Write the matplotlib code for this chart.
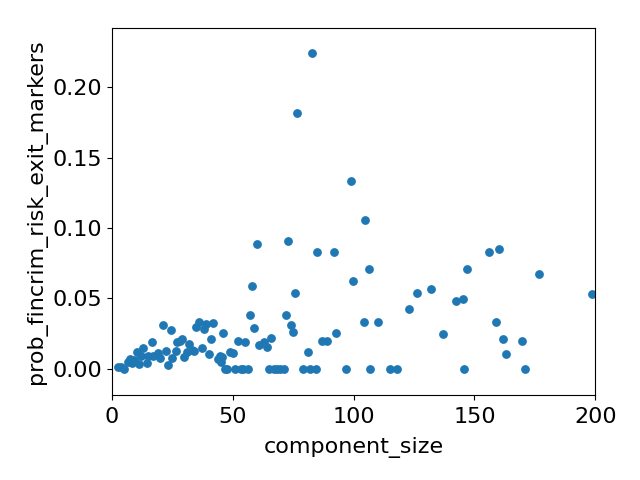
import matplotlib
matplotlib.use("Agg")
import matplotlib.pyplot as plt
import numpy as np

# component sizes and risk probabilities
component_size = [
    2.3, 3.7, 5.1, 6.8, 7.5, 8.1, 9.2, 10.2, 11.3, 12.0, 13.0, 14.4, 15.0, 16.4,
    17.1, 19.2, 19.9, 21.2, 22.2, 23.3, 24.3, 25.0, 26.4, 26.8, 28.2, 28.9, 29.9,
    30.9, 32.0, 33.3, 34.1, 34.8, 36.2, 37.1, 38.1, 38.8, 40.3, 41.0, 41.9, 44.0,
    44.7, 45.1, 45.4, 46.1, 48.9, 50.2, 52.3, 55.2, 57.3, 58.1, 58.9, 60.2, 61.0,
    63.1, 64.0, 66.0, 72.0, 73.0, 74.2, 75.1, 75.9, 76.6, 81.3, 82.8, 85.0, 87.1,
    89.1, 92.0, 92.9, 99.0, 99.9, 104.1, 104.9, 106.3, 109.9, 123.1, 126.2, 132.2,
    137.2, 142.2, 145.2, 147.1, 156.2, 159.1, 160.0, 162.0, 162.9, 169.9, 176.9,
    198.8,
    # zero-probability components
    46.8, 47.7, 50.9, 53.4, 54.4, 56.2, 65.1, 67.2, 68.5, 69.6, 71.0, 79.1, 82.0,
    84.3, 97.0, 106.9, 115.2, 117.9, 145.9, 171.1,
]
prob_fincrim_risk_exit_markers = [
    0.0017, 0.0012, 0.0, 0.0052, 0.0069, 0.004, 0.0064, 0.0123, 0.0033, 0.0092,
    0.0147, 0.0045, 0.0092, 0.0189, 0.0092, 0.0116, 0.0076, 0.0312, 0.0128, 0.0026,
    0.0277, 0.0076, 0.0128, 0.0194, 0.0201, 0.0215, 0.0087, 0.0123, 0.0177, 0.0135,
    0.013, 0.0296, 0.0336, 0.0147, 0.0281, 0.0317, 0.0104, 0.0213, 0.0328, 0.0069,
    0.0092, 0.0052, 0.0083, 0.0257, 0.0118, 0.0111, 0.0196, 0.0189, 0.0383, 0.0587,
    0.0289, 0.0884, 0.0168, 0.0189, 0.0154, 0.0217, 0.038, 0.0906, 0.031, 0.026,
    0.0537, 0.1816, 0.0118, 0.224, 0.0827, 0.0196, 0.0196, 0.0827, 0.0253, 0.133,
    0.0622, 0.0331, 0.106, 0.0707, 0.0331, 0.0423, 0.0537, 0.0565, 0.0246, 0.048,
    0.0494, 0.0707, 0.0827, 0.0331, 0.0849, 0.021, 0.0104, 0.0196, 0.0671, 0.053,
    0.0, 0.0, 0.0, 0.0, 0.0, 0.0, 0.0, 0.0, 0.0, 0.0, 0.0, 0.0, 0.0,
    0.0, 0.0, 0.0, 0.0, 0.0, 0.0, 0.0,
]

plt.rcParams['font.size'] = 16

fig, ax = plt.subplots(figsize=(6.4, 4.8), dpi=100)
ax.scatter(component_size, prob_fincrim_risk_exit_markers, s=28, color='#1f77b4')
ax.set_xlim(0, 200)
ax.set_ylim(-0.0185, 0.242)
ax.set_xticks([0, 50, 100, 150, 200])
ax.set_yticks([0.0, 0.05, 0.10, 0.15, 0.20])
ax.tick_params(axis='x', pad=5)
ax.set_xlabel('component_size', labelpad=7)
ax.set_ylabel('prob_fincrim_risk_exit_markers')
plt.subplots_adjust(left=0.175, right=0.93, top=0.942, bottom=0.177)
plt.savefig('out.png', dpi=100)
